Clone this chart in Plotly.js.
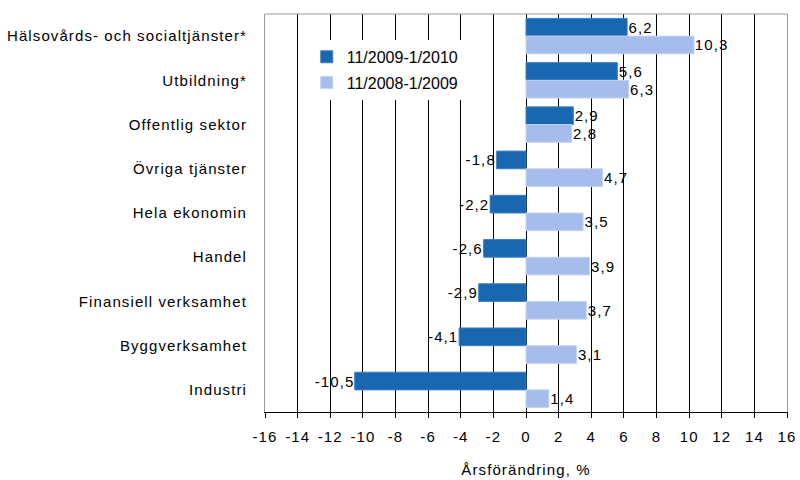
<!DOCTYPE html>
<html>
<head>
<meta charset="utf-8">
<script src="https://cdn.plot.ly/plotly-3.0.1.min.js"></script>
<style>
html,body{margin:0;padding:0;background:#fff;}
#chart{width:800px;height:480px;}
#chart svg text{letter-spacing:1.1px;}
#chart svg .legend text{letter-spacing:0;}
</style>
</head>
<body>
<div id="chart"></div>
<script>
const categories = ["Hälsovårds- och socialtjänster*", "Utbildning*", "Offentlig sektor", "Övriga tjänster", "Hela ekonomin", "Handel", "Finansiell verksamhet", "Byggverksamhet", "Industri"];
const series2010 = [6.2, 5.6, 2.9, -1.8, -2.2, -2.6, -2.9, -4.1, -10.5];
const series2009 = [10.3, 6.3, 2.8, 4.7, 3.5, 3.9, 3.7, 3.1, 1.4];
const seriesNames = ["11/2009-1/2010", "11/2008-1/2009"];
const tickVals = [-16, -14, -12, -10, -8, -6, -4, -2, 0, 2, 4, 6, 8, 10, 12, 14, 16];

const fmt = v => v.toFixed(1).replace('.', ',');
const font = {family: 'Liberation Sans, Arial, sans-serif', size: 15, color: '#000'};

const traces = [
  {type: 'bar', orientation: 'h', name: seriesNames[0], legendgroup: 'a', y: categories, x: series2010,
   marker: {color: '#1967B0', line: {color: '#3E80C0', width: 1}},
   text: series2010.map(fmt), textposition: 'outside', cliponaxis: false,
   textfont: font, hoverinfo: 'x+y'},
  {type: 'bar', orientation: 'h', name: seriesNames[1], legendgroup: 'b', y: categories, x: series2009,
   marker: {color: '#A6BDEB', line: {color: '#C3D3F2', width: 1}},
   text: series2009.map(fmt), textposition: 'outside', cliponaxis: false,
   textfont: font, hoverinfo: 'x+y'}
];

const layout = {
  width: 800, height: 480,
  margin: {l: 265, r: 13, t: 14, b: 68},
  paper_bgcolor: '#fff', plot_bgcolor: '#fff',
  font: font,
  barmode: 'group', bargap: 0.2, bargroupgap: 0,
  showlegend: true,
  legend: {x: 0.08, y: 0.935, xanchor: 'left', yanchor: 'top', bgcolor: '#fff',
           font: {family: font.family, size: 16, color: '#000'},
           traceorder: 'grouped', tracegroupgap: 2, itemwidth: 30},
  xaxis: {range: [-16, 16], tickvals: tickVals, ticktext: tickVals.map(String),
          showgrid: true, gridcolor: '#000', gridwidth: 1,
          zeroline: true, zerolinecolor: '#000', zerolinewidth: 1,
          showline: true, linecolor: '#000', linewidth: 1,
          ticks: 'outside', ticklen: 5, tickcolor: '#000', ticklabelstandoff: 6,
          tickfont: font, fixedrange: true,
          title: {text: 'Årsförändring, %', font: font, standoff: 20}},
  yaxis: {type: 'category', autorange: 'reversed', showgrid: false, zeroline: false,
          showline: true, linecolor: '#999', linewidth: 1, mirror: true,
          ticks: '', tickfont: font, ticklabelstandoff: 14, fixedrange: true},
  shapes: [{type: 'line', xref: 'paper', yref: 'paper', x0: 0, x1: 1, y0: 1, y1: 1,
            line: {color: '#999', width: 1}}]
};

Plotly.newPlot('chart', traces, layout, {displayModeBar: false, staticPlot: true});
</script>
</body>
</html>
